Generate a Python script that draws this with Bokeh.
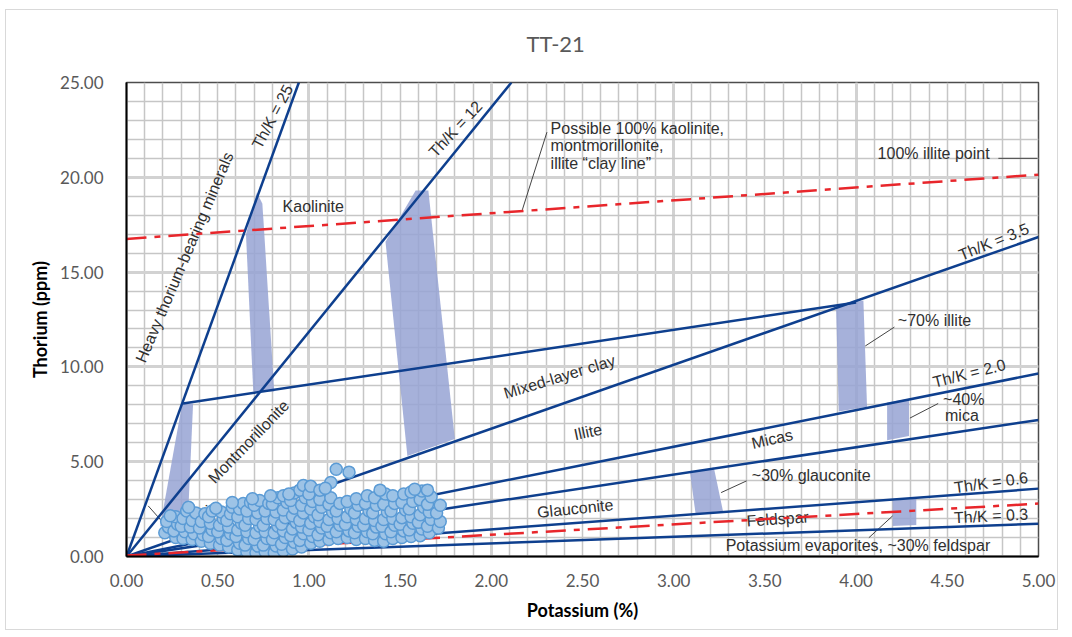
from bokeh.plotting import figure
from bokeh.models import SingleIntervalTicker, FixedTicker, NumeralTickFormatter, ColumnDataSource
from bokeh.core.properties import value
from bokeh.embed import file_html
from bokeh.resources import INLINE

# ---------------- data ----------------
k_ticks = [0.0, 0.5, 1.0, 1.5, 2.0, 2.5, 3.0, 3.5, 4.0, 4.5, 5.0]
th_ticks = [0, 5, 10, 15, 20, 25]

# blue reference lines (Th/K ratios and mixed-layer clay line)
blue_x0 = [0.0, 0.0, 0.0, 0.31, 0.0, 0.0, 0.0, 0.0]
blue_y0 = [0.0, 0.0, 0.0, 8.07, 0.0, 0.0, 0.0, 0.0]
blue_x1 = [0.945, 2.11, 5.0, 4.0, 5.0, 5.0, 5.0, 5.0]
blue_y1 = [25.0, 25.0, 16.85, 13.4, 9.65, 7.2, 3.58, 1.73]

# red dashed lines (clay line, lower feldspar line)
red_x0 = [0.0, 0.0]
red_y0 = [16.75, 0.05]
red_x1 = [5.0, 5.0]
red_y1 = [20.14, 2.79]

# shaded mineral bands
band_xs = [
    [0.305, 0.365, 0.335, 0.185],
    [0.715, 0.745, 0.81, 0.695, 0.655],
    [1.585, 1.655, 1.80, 1.54, 1.42],
    [3.89, 4.04, 4.06, 3.905],
    [4.17, 4.29, 4.29, 4.17],
    [3.09, 3.22, 3.27, 3.12],
    [4.20, 4.33, 4.33, 4.20],
]
band_ys = [
    [8.05, 8.05, 1.6, 1.6],
    [19.2, 18.6, 8.7, 8.7, 17.0],
    [19.3, 19.3, 6.2, 5.3, 16.6],
    [13.25, 13.5, 7.9, 7.65],
    [8.12, 8.32, 6.36, 6.13],
    [4.4, 4.7, 2.4, 2.25],
    [2.95, 3.05, 1.66, 1.61],
]

# leader lines
lead_x0 = [2.17, 4.78, 4.05, 4.295, 3.26, 4.20, 0.119]
lead_y0 = [18.28, 21.0, 11.1, 7.30, 3.37, 2.14, 2.67]
lead_x1 = [2.305, 4.995, 4.21, 4.45, 3.40, 4.07, 0.192]
lead_y1 = [22.38, 21.0, 12.1, 8.07, 3.99, 0.99, 1.88]

# centred labels
label_text = ["Heavy thorium-bearing minerals", "Th/K = 25", "Th/K = 12", "Kaolinite",
              "100% illite point", "Th/K = 3.5", "~70% illite", "Mixed-layer clay",
              "Montmorillonite", "Illite", "Th/K = 2.0", "~40%", "mica", "Micas",
              "~30% glauconite", "Glauconite", "Th/K = 0.6", "Feldspar", "Th/K = 0.3",
              "Potassium evaporites, ~30% feldspar", "Chlorite"]
label_x = [0.318, 0.80, 1.804, 1.024, 4.425, 4.755, 4.43, 2.374, 0.67, 2.53, 4.62, 4.59, 4.58,
           3.54, 3.754, 2.46, 4.74, 3.57, 4.74, 4.01, 0.384]
label_y = [15.78, 23.2, 22.55, 18.47, 21.24, 16.6, 12.43, 9.48, 6.06, 6.57, 9.66, 8.3, 7.42,
           6.2, 4.25, 2.53, 3.9, 1.98, 2.14, 0.58, 2.19]
label_angle = [67, 62, 47, 0, 0, 22, 0, 17, 46, 12, 14, 0, 0, 13, 0, 6, 8, 4, 3, 0, 20]

# left-aligned clay line note
note_text = ["Possible 100% kaolinite,", "montmorillonite,", "illite \u201cclay line\u201d"]
note_x = [2.325, 2.325, 2.325]
note_y = [22.57, 21.67, 20.72]

# measured samples (K %, Th ppm)
potassium_pct = [
    0.21, 0.23, 0.22,
    0.27, 0.26, 0.28, 0.27,
    0.31, 0.32, 0.30, 0.31, 0.33,
    0.36, 0.37, 0.35, 0.36, 0.38,
    0.41, 0.42, 0.40, 0.41, 0.43,
    0.46, 0.45, 0.47, 0.46, 0.45, 0.47,
    0.51, 0.52, 0.50, 0.51, 0.53, 0.52,
    0.56, 0.55, 0.57, 0.56, 0.55, 0.57, 0.58,
    0.61, 0.62, 0.60, 0.61, 0.63, 0.61, 0.62, 0.64,
    0.66, 0.65, 0.67, 0.66, 0.65, 0.67, 0.66, 0.68,
    0.71, 0.72, 0.70, 0.71, 0.73, 0.71, 0.72, 0.70, 0.73,
    0.76, 0.75, 0.77, 0.76, 0.75, 0.77, 0.76, 0.78,
    0.81, 0.82, 0.80, 0.81, 0.83, 0.81, 0.82, 0.80, 0.83,
    0.86, 0.85, 0.87, 0.86, 0.85, 0.87, 0.86, 0.88, 0.86,
    0.91, 0.92, 0.90, 0.91, 0.93, 0.91, 0.92, 0.90, 0.92,
    0.96, 0.95, 0.97, 0.96, 0.95, 0.97, 0.96, 0.98, 0.95, 0.97,
    1.01, 1.02, 1.00, 1.01, 1.03, 1.01, 1.02, 1.00, 1.01,
    1.06, 1.05, 1.07, 1.06, 1.05, 1.07, 1.06, 1.06,
    1.11, 1.12, 1.10, 1.11, 1.13, 1.11, 1.12, 1.12,
    1.16, 1.15, 1.17, 1.16, 1.15, 1.17, 1.15,
    1.21, 1.22, 1.20, 1.21, 1.23, 1.21, 1.22,
    1.26, 1.25, 1.27, 1.26, 1.25, 1.27, 1.26,
    1.31, 1.32, 1.30, 1.31, 1.33, 1.31, 1.32,
    1.36, 1.35, 1.37, 1.36, 1.35, 1.37, 1.36,
    1.41, 1.42, 1.40, 1.41, 1.43, 1.41, 1.42,
    1.46, 1.45, 1.47, 1.46, 1.45, 1.47, 1.46,
    1.51, 1.52, 1.50, 1.51, 1.53, 1.51, 1.52,
    1.56, 1.55, 1.57, 1.56, 1.55, 1.57, 1.56,
    1.61, 1.62, 1.60, 1.61, 1.63, 1.61, 1.62,
    1.66, 1.65, 1.67, 1.66, 1.65, 1.67, 1.65,
    1.71, 1.72, 1.70, 1.72,
    0.24, 0.34, 0.49, 0.69, 0.89, 1.09, 1.39, 1.58, 0.79, 0.58,
]
thorium_ppm = [
    1.25, 1.55, 1.85,
    1.00, 1.35, 1.70, 2.10,
    0.95, 1.30, 1.60, 2.00, 2.40,
    0.90, 1.20, 1.55, 1.90, 2.30,
    0.80, 1.15, 1.50, 1.85, 2.25,
    0.70, 1.05, 1.40, 1.75, 2.10, 2.40,
    0.60, 0.95, 1.30, 1.65, 2.00, 2.35,
    0.50, 0.85, 1.20, 1.55, 1.90, 2.25, 2.60,
    0.35, 0.70, 1.05, 1.40, 1.75, 2.10, 2.50, 2.80,
    0.25, 0.60, 0.95, 1.30, 1.65, 2.00, 2.40, 2.85,
    0.20, 0.55, 0.90, 1.25, 1.60, 1.95, 2.30, 2.70, 2.95,
    0.25, 0.60, 0.95, 1.30, 1.65, 2.00, 2.40, 2.80,
    0.20, 0.55, 0.90, 1.25, 1.60, 1.95, 2.35, 2.75, 3.10,
    0.30, 0.65, 1.00, 1.35, 1.70, 2.05, 2.45, 2.85, 3.20,
    0.40, 0.75, 1.10, 1.45, 1.80, 2.15, 2.55, 2.95, 3.35,
    0.50, 0.85, 1.20, 1.55, 1.90, 2.30, 2.70, 3.10, 3.50, 3.75,
    0.70, 1.05, 1.40, 1.75, 2.10, 2.50, 2.90, 3.30, 3.70,
    0.80, 1.15, 1.50, 1.85, 2.20, 2.60, 3.00, 3.50,
    0.90, 1.25, 1.60, 1.95, 2.35, 2.75, 3.10, 3.90,
    0.95, 1.30, 1.65, 2.00, 2.40, 2.80, 4.60,
    1.00, 1.35, 1.70, 2.10, 2.50, 2.90, 4.45,
    0.90, 1.25, 1.60, 1.95, 2.30, 2.70, 3.05,
    0.95, 1.30, 1.65, 2.00, 2.40, 2.80, 3.20,
    0.85, 1.20, 1.55, 1.90, 2.30, 2.70, 3.10,
    0.80, 1.20, 1.60, 1.95, 2.35, 2.75, 3.30,
    0.95, 1.30, 1.65, 2.00, 2.40, 2.80, 3.20,
    1.00, 1.35, 1.70, 2.05, 2.45, 2.85, 3.30,
    1.05, 1.40, 1.75, 2.10, 2.50, 2.90, 3.40,
    1.10, 1.45, 1.80, 2.20, 2.60, 3.00, 3.45,
    1.25, 1.60, 1.95, 2.35, 2.75, 3.15, 3.50,
    1.50, 1.85, 2.30, 2.70,
    2.15, 2.60, 2.55, 3.05, 3.30, 3.60, 3.50, 3.55, 3.20, 2.85,
]

# ---------------- figure ----------------
TEXT_FONT = "Liberation Sans"
AXIS_FONT = "Lato"

# chart box drawn at (5, 9)-(1060, 632) of the page; frame at (126, 82)-(1038, 556)
p = figure(width=1053, height=621, x_range=(0, 5), y_range=(0, 25),
           output_backend="svg", toolbar_location=None,
           min_border_left=120, min_border_right=21, min_border_top=72, min_border_bottom=75)
p.styles = {"margin-left": "5px", "margin-top": "9px", "border": "1px solid #d9d9d9"}

p.title.text = "TT-21\n"
p.title.text_line_height = 0.75
p.title.align = "left"
p.title.offset = 400
p.title.vertical_align = "bottom"
p.title.text_font = AXIS_FONT
p.title.text_font_size = "22px"
p.title.text_font_style = "normal"
p.title.text_color = "#595959"

p.background_fill_color = "white"
p.border_fill_color = "white"
p.outline_line_color = "#4d4d4d"
p.outline_line_width = 1.5

# grids
p.xgrid.ticker = SingleIntervalTicker(interval=1, num_minor_ticks=10)
p.ygrid.ticker = SingleIntervalTicker(interval=5, num_minor_ticks=5)
for g in (p.xgrid, p.ygrid):
    g.grid_line_color = "#d2d2d2"
    g.grid_line_width = 3
    g.minor_grid_line_color = "#c6c6c6"
    g.minor_grid_line_width = 1.5

# axes
p.xaxis.ticker = FixedTicker(ticks=k_ticks)
p.yaxis.ticker = FixedTicker(ticks=th_ticks)
for ax in (p.xaxis, p.yaxis):
    ax.formatter = NumeralTickFormatter(format="0.00")
    ax.axis_line_color = "black"
    ax.axis_line_width = 2
    ax.major_tick_line_color = None
    ax.minor_tick_line_color = None
    ax.major_label_text_font = AXIS_FONT
    ax.major_label_text_font_size = "17px"
    ax.major_label_text_color = "#595959"
    ax.axis_label_text_font = AXIS_FONT
    ax.axis_label_text_font_size = "18px"
    ax.axis_label_text_font_style = "bold"
    ax.axis_label_text_color = "black"
p.xaxis.axis_label = "Potassium (%)"
p.yaxis.axis_label = "Thorium (ppm)"
p.xaxis.major_label_standoff = 11
p.xaxis.axis_label_standoff = 9
p.yaxis.major_label_standoff = 17
p.yaxis.axis_label_standoff = 6

# shaded bands
p.patches(xs=band_xs, ys=band_ys, fill_color="#97a3d3", fill_alpha=0.85, line_color=None)

# labels
lab_src = ColumnDataSource(dict(x=label_x, y=label_y, text=label_text, angle=label_angle))
p.text(x="x", y="y", text="text", angle="angle", angle_units="deg", source=lab_src,
       text_font=value(TEXT_FONT), text_font_size="16px", text_color="#303030",
       text_align="center", text_baseline="middle")
note_src = ColumnDataSource(dict(x=note_x, y=note_y, text=note_text))
p.text(x="x", y="y", text="text", source=note_src,
       text_font=value(TEXT_FONT), text_font_size="16px", text_color="#303030",
       text_align="left", text_baseline="middle")

# leader lines
p.segment(x0=lead_x0, y0=lead_y0, x1=lead_x1, y1=lead_y1, line_color="#444444", line_width=1)

# reference lines
p.segment(x0=blue_x0, y0=blue_y0, x1=blue_x1, y1=blue_y1, line_color="#0e3f8e", line_width=2.5)
p.segment(x0=red_x0, y0=red_y0, x1=red_x1, y1=red_y1, line_color="#e8262b", line_width=2.5,
          line_dash="20 8 6 8")

# samples
p.scatter(x=potassium_pct, y=thorium_ppm, size=12, marker="circle",
          fill_color="#9dc3e6", line_color="#5b9bd5", line_width=1.5)

open("out.html", "w").write(file_html(p, INLINE))
